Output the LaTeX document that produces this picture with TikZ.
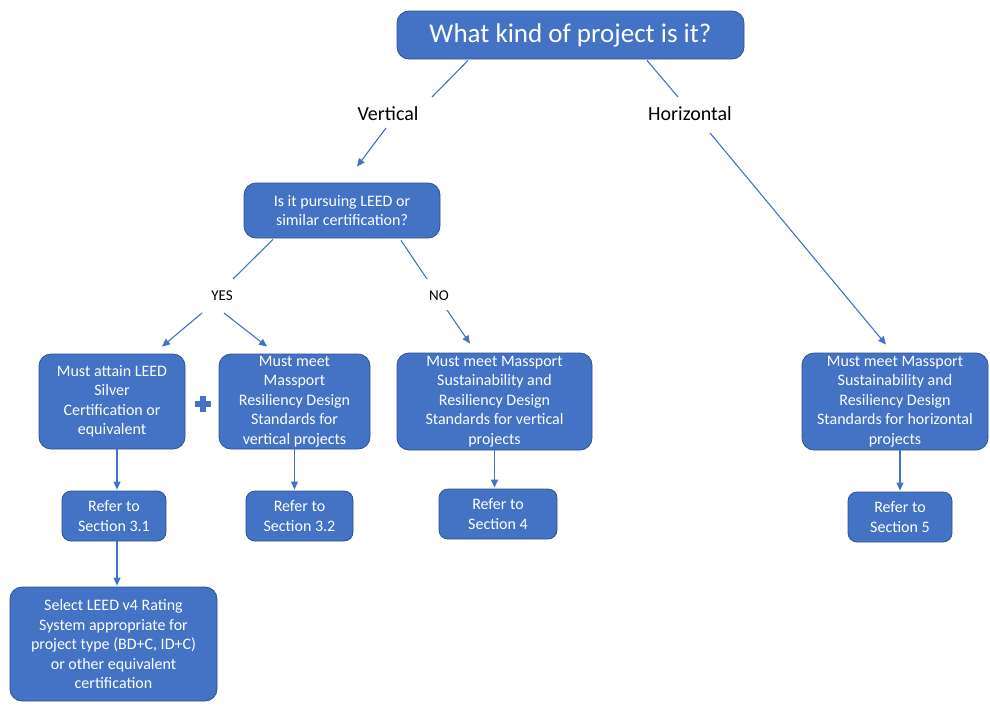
\documentclass[tikz,border=0pt]{standalone}
\usepackage{fontspec}
\setmainfont{Carlito}
\usetikzlibrary{arrows.meta}
\definecolor{boxblue}{HTML}{4472C4}
\definecolor{boxedge}{HTML}{2F528F}
\tikzset{
  box/.style={draw=boxedge, line width=0.8pt, fill=boxblue, rounded corners=12pt,
    text=white, align=center, inner sep=0pt, font=\fontsize{16}{19.5}\selectfont},
  smallbox/.style={box, rounded corners=9pt},
  lbl/.style={text=black, inner sep=0pt},
  conn/.style={draw=boxblue, line width=1.1pt},
  arr/.style={conn, -{Triangle[length=8pt,width=7pt]}},
}
\begin{document}
\begin{tikzpicture}[x=1pt,y=-1pt]
\path[use as bounding box] (0,0) rectangle (990,704);
% nodes
\node[box, minimum width=347pt, minimum height=48pt, font=\fontsize{27}{30}\selectfont] (top) at (570.5,35) {What kind of project is it?};
\node[lbl, font=\fontsize{20}{24}\selectfont] (vert) at (388,114) {Vertical};
\node[lbl, font=\fontsize{20}{24}\selectfont] (horiz) at (690,114) {Horizontal};
\node[box, minimum width=196pt, minimum height=55pt] (leed) at (342,210.5) {Is it pursuing LEED or\\similar certification?};
\node[lbl, font=\fontsize{15}{18}\selectfont] (yes) at (222,296) {YES};
\node[lbl, font=\fontsize{15}{18}\selectfont] (no) at (439,296) {NO};
\node[box, minimum width=146pt, minimum height=95pt] (a) at (112,401.5) {Must attain LEED\\Silver\\Certification or\\equivalent};
\node[box, minimum width=151pt, minimum height=95pt] (b) at (294.5,401.5) {Must meet\\Massport\\Resiliency Design\\Standards for\\vertical projects};
\node[box, minimum width=195pt, minimum height=97pt] (c) at (494.5,401.5) {Must meet Massport\\Sustainability and\\Resiliency Design\\Standards for vertical\\projects};
\node[box, minimum width=186pt, minimum height=97pt] (d) at (895,401.5) {Must meet Massport\\Sustainability and\\Resiliency Design\\Standards for horizontal\\projects};
\node[smallbox, minimum width=104pt, minimum height=50pt] (a2) at (114,516) {Refer to\\Section 3.1};
\node[smallbox, minimum width=107pt, minimum height=50pt] (b2) at (299.5,516) {Refer to\\Section 3.2};
\node[smallbox, minimum width=118pt, minimum height=50pt] (c2) at (498,514) {Refer to\\Section 4};
\node[smallbox, minimum width=104pt, minimum height=50pt] (d2) at (900,517) {Refer to\\Section 5};
\node[box, minimum width=207pt, minimum height=114pt] (e) at (113.5,644) {Select LEED v4 Rating\\System appropriate for\\project type (BD+C, ID+C)\\or other equivalent\\certification};
% plus sign
\node[inner sep=0pt, minimum size=16pt] (plus) at (203,404) {};
\fill[boxblue] ([shift={(-3,-8)}]plus.center) rectangle ([shift={(3,8)}]plus.center);
\fill[boxblue] ([shift={(-8,-3)}]plus.center) rectangle ([shift={(8,3)}]plus.center);
% connectors
\draw[conn] ([shift={(-102.5,1)}]top.south) -- ([shift={(44,-17)}]vert.center);
\draw[conn] ([shift={(76.5,1)}]top.south) -- ([shift={(-12,-17)}]horiz.center);
\draw[arr] ([shift={(-2,14)}]vert.center) -- ([shift={(15,-16)}]leed.north);
\draw[arr] ([shift={(20,19)}]horiz.center) -- ([shift={(-9,-8)}]d.north);
\draw[conn] ([shift={(-69,1)}]leed.south) -- ([shift={(11,-17)}]yes.center);
\draw[conn] ([shift={(59,2)}]leed.south) -- ([shift={(-12,-17)}]no.center);
\draw[arr] ([shift={(-20,17)}]yes.center) -- ([shift={(50,-7)}]a.north);
\draw[arr] ([shift={(2,17)}]yes.center) -- ([shift={(-27.5,-7)}]b.north);
\draw[arr] ([shift={(8,14)}]no.center) -- ([shift={(-24.5,-9)}]c.north);
\draw[arr] ([shift={(5,0)}]a.south) -- ([shift={(3,-1)}]a2.north);
\draw[arr] (b.south) -- ([shift={(-5,-1)}]b2.north);
\draw[arr] (c.south) -- ([shift={(-3.5,-1)}]c2.north);
\draw[arr] ([shift={(5,0)}]d.south) -- ([shift={(0,-1)}]d2.north);
\draw[arr] ([shift={(3,0)}]a2.south) -- ([shift={(3.5,-1)}]e.north);
\end{tikzpicture}
\end{document}
